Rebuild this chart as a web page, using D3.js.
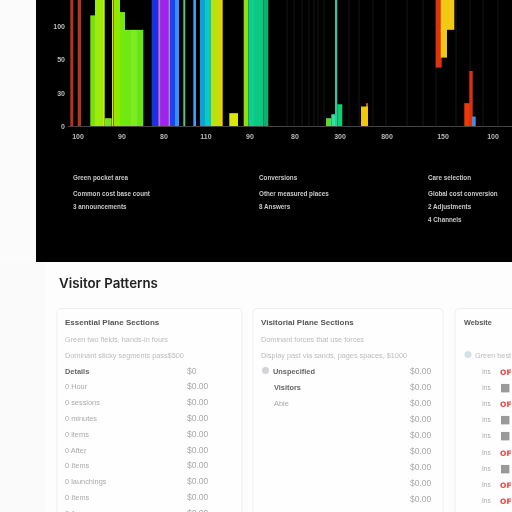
<!DOCTYPE html>
<html>
<head>
<meta charset="utf-8">
<script src="https://cdn.jsdelivr.net/npm/d3@7"></script>
<style>
    html, body { margin: 0; padding: 0; background: #fdfdfd; overflow: hidden; }
    svg { display: block; font-family: "Liberation Sans", Arial, sans-serif; }
</style>
</head>
<body>
<svg id="graph" width="512" height="512"></svg>
<script>
// bars, x is the offset along the axis
const barStart = [2.3, 9.7, 22.3, 27, 35, 36.7, 44, 46, 52, 57, 63, 69, 83.7, 90.3, 92.7, 100.3, 102, 107, 115.3, 125.3, 132, 137, 143, 152, 161.3, 175.7, 180.3, 186, 195.3, 258, 263.3, 267, 269.3, 298, 293, 367.7, 372.7, 379, 396.3, 401.3, 404];
const barEnd = [5.3, 13, 27, 35, 36.7, 43.7, 45.5, 52, 57, 63, 69, 75.3, 90.3, 92.7, 100.3, 102, 107, 111, 117.3, 128, 137, 143, 152, 154.7, 170, 180.3, 186, 195.3, 200.3, 263.3, 267, 269.3, 274.3, 300, 300, 373.7, 379, 386.3, 403, 404.7, 407.7];
const barLow = [0, 0, 0, 0, 0, 0, 0, 0, 0, 0, 0, 0, 0, 0, 0, 0, 0, 0, 0, 0, 0, 0, 0, 0, 0, 0, 0, 0, 0, 0, 0, 0, 0, 0, 0, 53, 62, 87, 0, 0, 0];
const barHigh = [114, 114, 100, 114, 114, 7.5, 114, 114, 103, 87, 87, 87, 114, 114, 114, 114, 114, 114, 114, 114, 114, 114, 114, 114, 12, 114, 114, 114, 114, 7.5, 11, 114, 20, 21, 18, 114, 114, 114, 21, 50, 9];
const barColor = ["#b5301c", "#b5361f", "#7be00c", "#9bec08", "#c8f000", "#7fe020", "#d8e800", "#8fe800", "#74e810", "#6fe818", "#7cec20", "#68e418", "#1a30e0", "#c070ff", "#a020f0", "#b080f8", "#2040f0", "#3090ff", "#50c878", "#40a0f0", "#10a0d8", "#10c8c0", "#c0e010", "#f0d000", "#d8e800", "#90e010", "#10d090", "#10c880", "#08b070", "#60d830", "#30e0a0", "#40c0a0", "#10d070", "#b8660c", "#f0c810", "#e03010", "#f0c814", "#f4c814", "#f03810", "#d83010", "#4090e0"];

const gridOffsets = [219, 226, 234, 241, 246, 250, 256, 281, 291, 305, 318, 339, 355, 368, 388, 402, 415, 430];

const yTicks = [0, 30, 60, 90];
const yLabels = ["0", "30", "50", "100"];
const xOffsets = [10, 54, 96, 138, 182, 227, 272, 319, 375, 425];
const xLabels = ["100", "90", "80", "110", "90", "80", "300", "800", "150", "100"];

const noteColumns = [73, 259, 428];
const noteLines = [
    ["Green pocket area", "Common cost base count", "3 announcements"],
    ["Conversions", "Other measured places", "8 Answers"],
    ["Care selection", "Global cost conversion", "2 Adjustments", "4 Channels"]
];

const cardTitles = ["Essential Plane Sections", "Visitorial Plane Sections", "Website"];
const cardNotes = [
    ["Green two fields, hands-in fours", "Dominant sticky segments pass$500"],
    ["Dominant forces that use forces", "Display past via sands, pages spaces, $1000"],
    ["", "Green best"]
];
const firstRows = ["Details", "0 Hour", "0 sessions", "0 minutes", "0 items", "0 After", "0 Items", "0 launchings", "0 Items", "0 Average"];
const firstValues = ["$0", "$0.00", "$0.00", "$0.00", "$0.00", "$0.00", "$0.00", "$0.00", "$0.00", "$0.00"];
const secondRows = ["Unspecified", "Visitors", "Able"];
const secondValues = ["$0.00", "$0.00", "$0.00", "$0.00", "$0.00", "$0.00", "$0.00", "$0.00", "$0.00"];
const rowMarks = [1, 0, 1, 0, 0, 1, 0, 1, 1];

const svg = d3.select("#graph");

const x = d3.scaleLinear().domain([0, 444]).range([68, 512]);
const y = d3.scaleLinear().domain([0, 90]).range([126.5, 26.5]);

svg.append("defs").append("filter").attr("id", "soft")
    .append("feGaussianBlur").attr("stdDeviation", 0.3);

// page and black panel
svg.append("rect").attr("x", 0).attr("y", 262).attr("width", 46).attr("height", 250).attr("fill", "#fafafa");
svg.append("rect").attr("x", 0).attr("y", 0).attr("width", 36).attr("height", 262).attr("fill", "#fbfbfb");
svg.append("rect").attr("x", 36).attr("y", 0).attr("width", 476).attr("height", 262).attr("fill", "#000");

const chart = svg.append("g").attr("filter", "url(#soft)");

chart.selectAll(".grid").data(gridOffsets).enter().append("line")
    .attr("x1", d => x(d)).attr("x2", d => x(d))
    .attr("y1", 0).attr("y2", y(0))
    .style("stroke", "#1a1a1a");

chart.selectAll(".bar").data(barStart).enter().append("rect")
    .attr("x", d => x(d))
    .attr("width", (d, i) => x(barEnd[i]) - x(d))
    .attr("y", (d, i) => y(barHigh[i]))
    .attr("height", (d, i) => y(barLow[i]) - y(barHigh[i]))
    .attr("fill", (d, i) => barColor[i]);

chart.append("line").attr("x1", x(0)).attr("x2", x(444))
    .attr("y1", y(0)).attr("y2", y(0))
    .style("stroke", "#444");

chart.selectAll(".ytick").data(yTicks).enter().append("text")
    .attr("x", 65).attr("y", d => y(d) + 2.5)
    .attr("text-anchor", "end")
    .attr("font-size", 7).attr("font-weight", "bold").attr("fill", "#bbb")
    .text((d, i) => yLabels[i]);

chart.selectAll(".xtick").data(xOffsets).enter().append("text")
    .attr("x", d => x(d)).attr("y", 138.5)
    .attr("text-anchor", "middle")
    .attr("font-size", 7).attr("font-weight", "bold").attr("fill", "#bbb")
    .text((d, i) => xLabels[i]);

// notes under the chart
noteColumns.forEach((col, c) => {
    chart.selectAll(".note" + c).data(noteLines[c]).enter().append("text")
        .attr("x", col).attr("y", (d, i) => [179.5, 195.5, 208.5, 221.5][i])
        .attr("font-size", 6.3).attr("font-weight", "bold").attr("fill", "#c8c8c8")
        .text(d => d);
});

const page = svg.append("g").attr("filter", "url(#soft)");

page.append("text").attr("x", 59).attr("y", 288)
    .attr("font-size", 13.3).attr("fill", "#222")
    .style("font-family", "Inter, 'Liberation Sans', sans-serif").style("font-weight", 600)
    .text("Visitor Patterns");

// cards
const cardX = [57, 253, 455];
const cardW = [185, 190, 80];

page.selectAll(".card").data(cardX).enter().append("rect")
    .attr("x", d => d).attr("y", 308.5)
    .attr("width", (d, i) => cardW[i]).attr("height", 240).attr("rx", 4)
    .attr("fill", "#fefefe").attr("stroke", "#eeeeee");

page.selectAll(".ctitle").data(cardTitles).enter().append("text")
    .attr("x", (d, i) => cardX[i] + (i == 2 ? 9 : 8)).attr("y", 325)
    .attr("font-size", (d, i) => i == 2 ? 7.3 : 8).attr("font-weight", "bold").attr("fill", "#555")
    .text(d => d);

cardNotes.forEach((lines, c) => {
    page.selectAll(".cnote" + c).data(lines).enter().append("text")
        .attr("x", cardX[c] + (c == 2 ? 20 : 8)).attr("y", (d, i) => 341.5 + i * 16)
        .attr("font-size", 7.3).attr("fill", "#bbb")
        .text(d => d);
});

// first card rows
page.selectAll(".row1").data(firstRows).enter().append("text")
    .attr("x", 65).attr("y", (d, i) => 373.5 + i * 15.8)
    .attr("font-size", 7.4).attr("font-weight", (d, i) => i == 0 ? "bold" : "normal")
    .attr("fill", (d, i) => i == 0 ? "#666" : "#aaa")
    .text(d => d);
page.selectAll(".val1").data(firstValues).enter().append("text")
    .attr("x", 187).attr("y", (d, i) => 373.5 + i * 15.8)
    .attr("font-size", 8.5).attr("fill", "#aaa")
    .text(d => d);

// second card rows
page.append("circle").attr("cx", 265.5).attr("cy", 370.5).attr("r", 3.5).attr("fill", "#d4d4d8");
page.selectAll(".row2").data(secondRows).enter().append("text")
    .attr("x", (d, i) => i == 0 ? 273 : 274).attr("y", (d, i) => 373.5 + i * 16.1)
    .attr("font-size", 7.4).attr("font-weight", (d, i) => i < 2 ? "bold" : "normal")
    .attr("fill", (d, i) => i < 2 ? "#666" : "#aaa")
    .text(d => d);
page.selectAll(".val2").data(secondValues).enter().append("text")
    .attr("x", 410).attr("y", (d, i) => 373.5 + i * 16.1)
    .attr("font-size", 8.5).attr("fill", "#aaa")
    .text(d => d);

// third card rows
page.append("circle").attr("cx", 468).attr("cy", 354.5).attr("r", 3.5).attr("fill", "#d5dfe8");
page.selectAll(".ins").data(rowMarks).enter().append("text")
    .attr("x", 482).attr("y", (d, i) => 373.5 + i * 16.2)
    .attr("font-size", 6.5).attr("fill", "#aaa")
    .text("Ins");
page.selectAll(".mark").data(rowMarks).enter().append("text")
    .attr("x", 500).attr("y", (d, i) => 374.5 + i * 16.2)
    .style("font-family", "'DejaVu Sans', sans-serif")
    .attr("font-size", d => d ? 7.5 : 11).attr("font-weight", "bold")
    .attr("fill", d => d ? "#e84040" : "#999")
    .text(d => d ? "OF" : "\u25A0");
</script>
</body>
</html>
